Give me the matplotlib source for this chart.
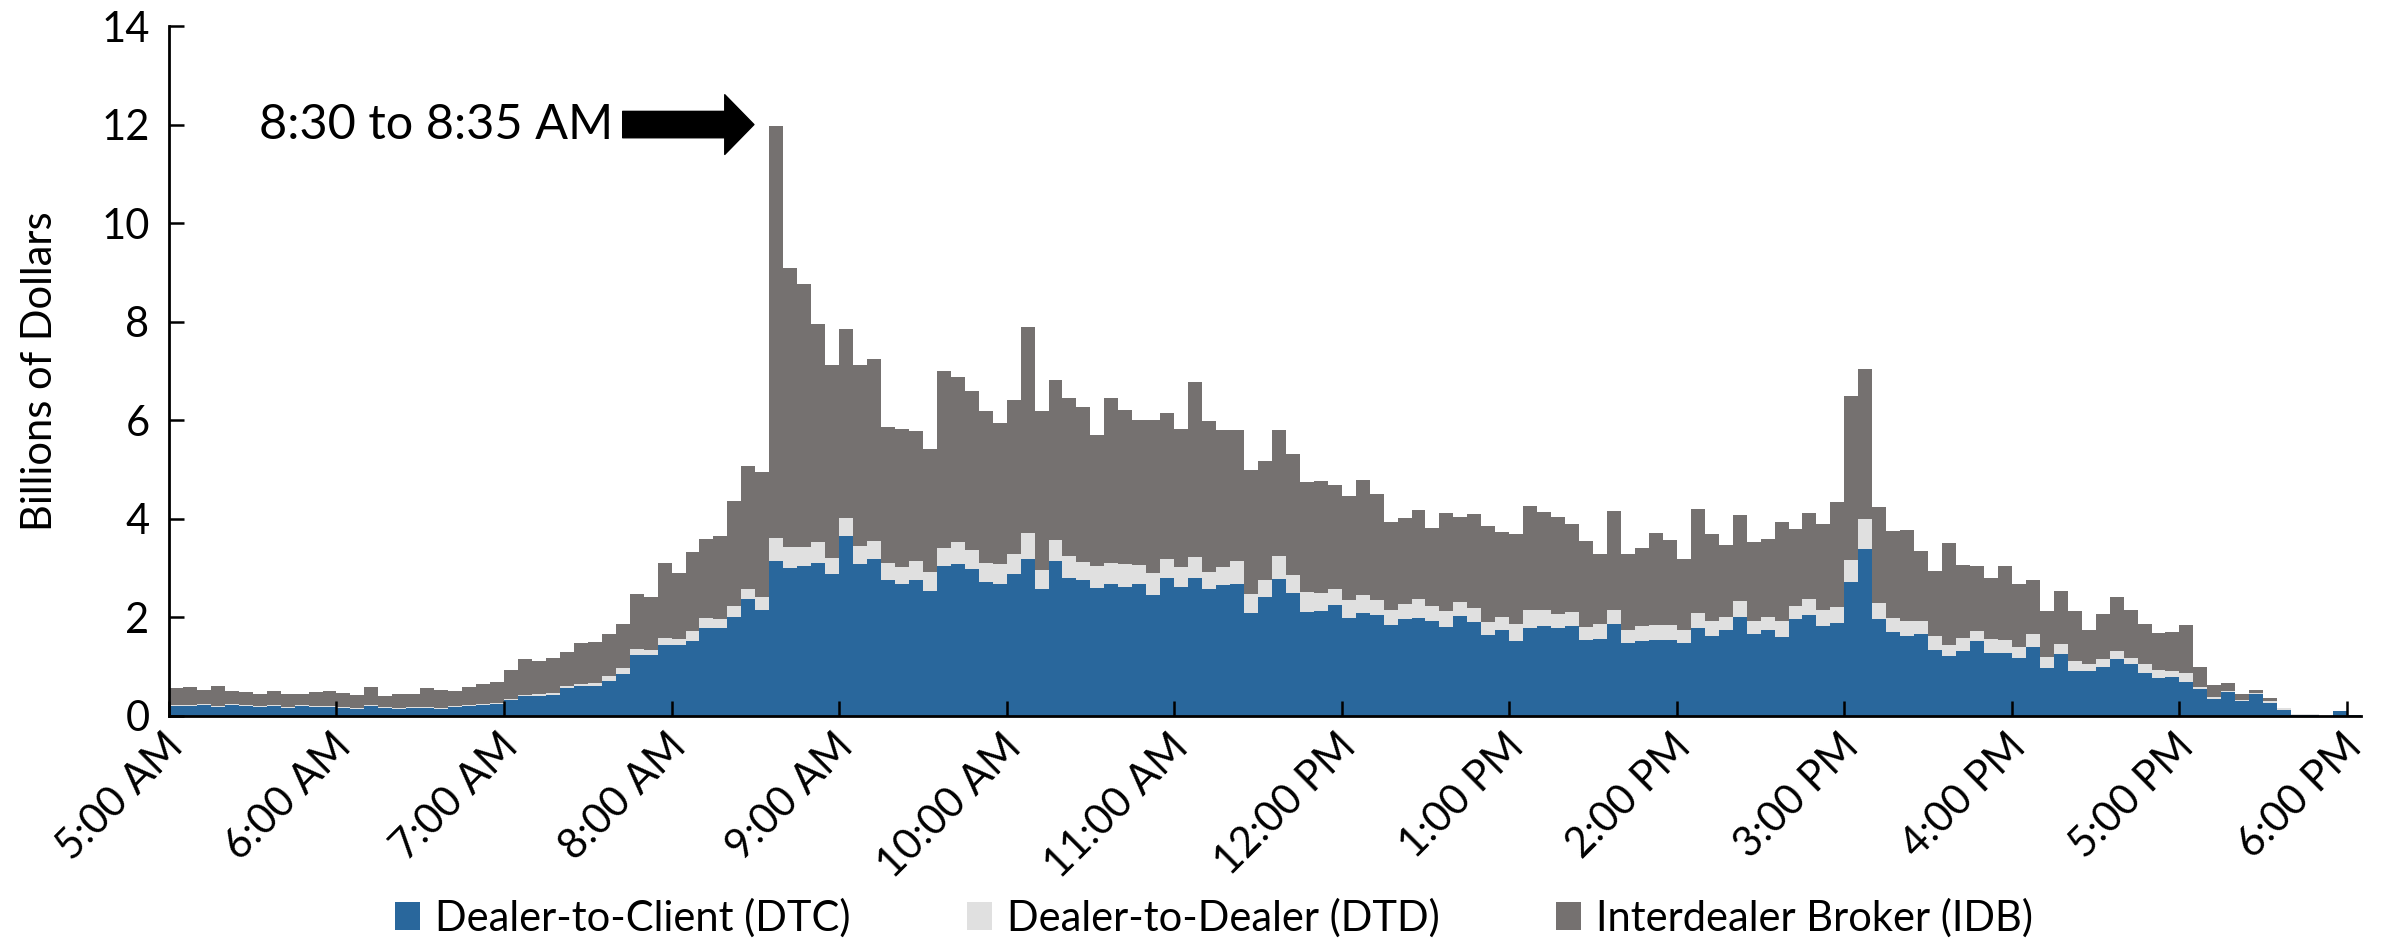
import matplotlib
matplotlib.use("Agg")
import matplotlib.pyplot as plt
import matplotlib.transforms as mtransforms
import numpy as np

plt.rcParams['font.family'] = ['Lato', 'DejaVu Sans']

# 5-minute intervals starting 5:00 AM, billions of dollars
dtc = [0.19, 0.19, 0.21, 0.18, 0.21, 0.19, 0.17, 0.19, 0.16, 0.19,
       0.18, 0.18, 0.16, 0.13, 0.19, 0.16, 0.13, 0.15, 0.15, 0.13,
       0.17, 0.20, 0.21, 0.24, 0.32, 0.40, 0.41, 0.43, 0.57, 0.60,
       0.61, 0.71, 0.85, 1.24, 1.24, 1.44, 1.44, 1.52, 1.78, 1.78,
       2.00, 2.36, 2.15, 3.14, 2.99, 3.03, 3.10, 2.87, 3.64, 3.07,
       3.19, 2.75, 2.67, 2.76, 2.54, 3.03, 3.07, 2.97, 2.71, 2.67,
       2.87, 3.19, 2.58, 3.14, 2.79, 2.75, 2.60, 2.67, 2.61, 2.68,
       2.46, 2.80, 2.62, 2.79, 2.58, 2.65, 2.67, 2.09, 2.40, 2.77,
       2.50, 2.11, 2.12, 2.24, 1.99, 2.08, 2.04, 1.85, 1.97, 1.99,
       1.92, 1.81, 2.03, 1.91, 1.63, 1.75, 1.52, 1.78, 1.83, 1.78,
       1.83, 1.54, 1.56, 1.87, 1.48, 1.52, 1.54, 1.54, 1.48, 1.78,
       1.61, 1.73, 2.00, 1.65, 1.74, 1.59, 1.96, 2.05, 1.83, 1.89,
       2.71, 3.38, 1.96, 1.70, 1.62, 1.66, 1.34, 1.21, 1.32, 1.52,
       1.28, 1.27, 1.17, 1.40, 0.97, 1.26, 0.91, 0.90, 0.99, 1.16,
       1.04, 0.87, 0.77, 0.79, 0.68, 0.54, 0.34, 0.48, 0.30, 0.45,
       0.26, 0.11, 0.02, 0.02, 0.00, 0.10, 0.01]

dtd = [0.02, 0.02, 0.02, 0.02, 0.02, 0.02, 0.02, 0.02, 0.02, 0.02,
       0.02, 0.02, 0.02, 0.03, 0.02, 0.02, 0.02, 0.02, 0.02, 0.02,
       0.02, 0.02, 0.02, 0.02, 0.02, 0.03, 0.03, 0.04, 0.04, 0.05,
       0.06, 0.10, 0.12, 0.12, 0.10, 0.14, 0.12, 0.19, 0.21, 0.19,
       0.23, 0.22, 0.27, 0.46, 0.43, 0.39, 0.42, 0.34, 0.37, 0.37,
       0.36, 0.35, 0.35, 0.38, 0.37, 0.38, 0.45, 0.39, 0.38, 0.40,
       0.41, 0.51, 0.37, 0.42, 0.45, 0.38, 0.43, 0.43, 0.46, 0.38,
       0.43, 0.39, 0.39, 0.43, 0.33, 0.37, 0.48, 0.39, 0.36, 0.47,
       0.35, 0.41, 0.38, 0.33, 0.35, 0.38, 0.30, 0.30, 0.30, 0.37,
       0.30, 0.31, 0.28, 0.28, 0.28, 0.26, 0.35, 0.36, 0.31, 0.29,
       0.28, 0.27, 0.31, 0.27, 0.26, 0.31, 0.31, 0.31, 0.26, 0.31,
       0.31, 0.28, 0.32, 0.27, 0.27, 0.33, 0.26, 0.31, 0.31, 0.31,
       0.46, 0.61, 0.32, 0.29, 0.30, 0.27, 0.28, 0.23, 0.26, 0.19,
       0.27, 0.27, 0.23, 0.26, 0.23, 0.20, 0.21, 0.15, 0.17, 0.16,
       0.14, 0.17, 0.16, 0.12, 0.18, 0.05, 0.03, 0.03, 0.02, 0.01,
       0.03, 0.04, 0.01, 0.01, 0.00, 0.00, 0.01]

idb = [0.36, 0.38, 0.30, 0.40, 0.28, 0.28, 0.25, 0.29, 0.27, 0.24,
       0.29, 0.31, 0.29, 0.26, 0.37, 0.22, 0.29, 0.28, 0.39, 0.38,
       0.32, 0.37, 0.41, 0.42, 0.58, 0.73, 0.68, 0.70, 0.68, 0.82,
       0.83, 0.84, 0.90, 1.12, 1.08, 1.51, 1.33, 1.61, 1.60, 1.67,
       2.12, 2.49, 2.53, 8.37, 5.66, 5.34, 4.44, 3.91, 3.85, 3.67,
       3.70, 2.77, 2.80, 2.63, 2.50, 3.59, 3.36, 3.23, 3.10, 2.88,
       3.13, 4.20, 3.24, 3.25, 3.21, 3.14, 2.67, 3.35, 3.14, 2.95,
       3.12, 2.96, 2.82, 3.56, 3.07, 2.78, 2.65, 2.51, 2.42, 2.56,
       2.46, 2.22, 2.27, 2.11, 2.12, 2.32, 2.16, 1.79, 1.74, 1.81,
       1.60, 1.99, 1.72, 1.90, 1.94, 1.71, 1.81, 2.11, 1.99, 1.96,
       1.78, 1.74, 1.42, 2.02, 1.55, 1.58, 1.85, 1.71, 1.45, 2.10,
       1.76, 1.45, 1.75, 1.60, 1.58, 2.02, 1.57, 1.76, 1.75, 2.14,
       3.33, 3.05, 1.96, 1.76, 1.85, 1.41, 1.31, 2.06, 1.47, 1.32,
       1.24, 1.50, 1.27, 1.09, 0.92, 1.07, 1.00, 0.68, 0.91, 1.09,
       0.97, 0.83, 0.75, 0.79, 0.99, 0.40, 0.25, 0.16, 0.12, 0.07,
       0.07, 0.01, 0.00, 0.00, 0.00, 0.00, 0.00]

hour_labels = ["5:00 AM", "6:00 AM", "7:00 AM", "8:00 AM", "9:00 AM",
               "10:00 AM", "11:00 AM", "12:00 PM", "1:00 PM", "2:00 PM",
               "3:00 PM", "4:00 PM", "5:00 PM", "6:00 PM"]

c_dtc = "#29679C"
c_dtd = "#E0E0E0"
c_idb = "#757170"

fig = plt.figure(figsize=(23.86, 9.40), dpi=100)
ax = fig.add_axes([0.0708, 0.2386, 0.9187, 0.7337])

x = np.arange(len(dtc))
dtc = np.array(dtc)
dtd = np.array(dtd)
idb = np.array(idb)
ax.bar(x, dtc, width=1.0, align='edge', color=c_dtc, linewidth=0,
       label="Dealer-to-Client (DTC)")
ax.bar(x, dtd, width=1.0, align='edge', bottom=dtc, color=c_dtd, linewidth=0,
       label="Dealer-to-Dealer (DTD)")
ax.bar(x, idb, width=1.0, align='edge', bottom=dtc + dtd, color=c_idb, linewidth=0,
       label="Interdealer Broker (IDB)")

ax.set_xlim(0, len(dtc))
ax.set_ylim(0, 14)
ax.set_yticks(range(0, 15, 2))
ax.set_xticks(np.arange(0, len(dtc), 12))
ax.set_xticklabels(hour_labels, rotation=45, ha='right', va='center',
                   rotation_mode='anchor')
ax.tick_params(axis='both', direction='in', length=11, width=1.8,
               labelsize=30, color='black')
ax.tick_params(axis='x', pad=18)
ax.tick_params(axis='y', pad=14)
# nudge the rotated hour labels a little to the right, like the original
shift = mtransforms.ScaledTranslation(8 / 100, 0, fig.dpi_scale_trans)
for lab in ax.get_xticklabels():
    lab.set_transform(lab.get_transform() + shift)
for s in ['top', 'right']:
    ax.spines[s].set_visible(False)
for s in ['left', 'bottom']:
    ax.spines[s].set_linewidth(2)
ax.set_ylabel("Billions of Dollars", fontsize=30, labelpad=30)

ax.annotate("", xy=(41.9, 12.0), xytext=(32.5, 12.0),
            arrowprops=dict(arrowstyle="simple,head_length=1.05,head_width=2.15,tail_width=0.95",
                            color='black', mutation_scale=20, shrinkA=0, shrinkB=0))
ax.text(31.8, 12.0, "8:30 to 8:35 AM", fontsize=35, ha='right', va='center')

fig.legend(loc='center', bbox_to_anchor=(0.5088, 0.0234), ncol=3, frameon=False,
           fontsize=30, handlelength=0.6, handleheight=0.65, handletextpad=0.35,
           columnspacing=2.8)

fig.savefig("out.png", dpi=100)
